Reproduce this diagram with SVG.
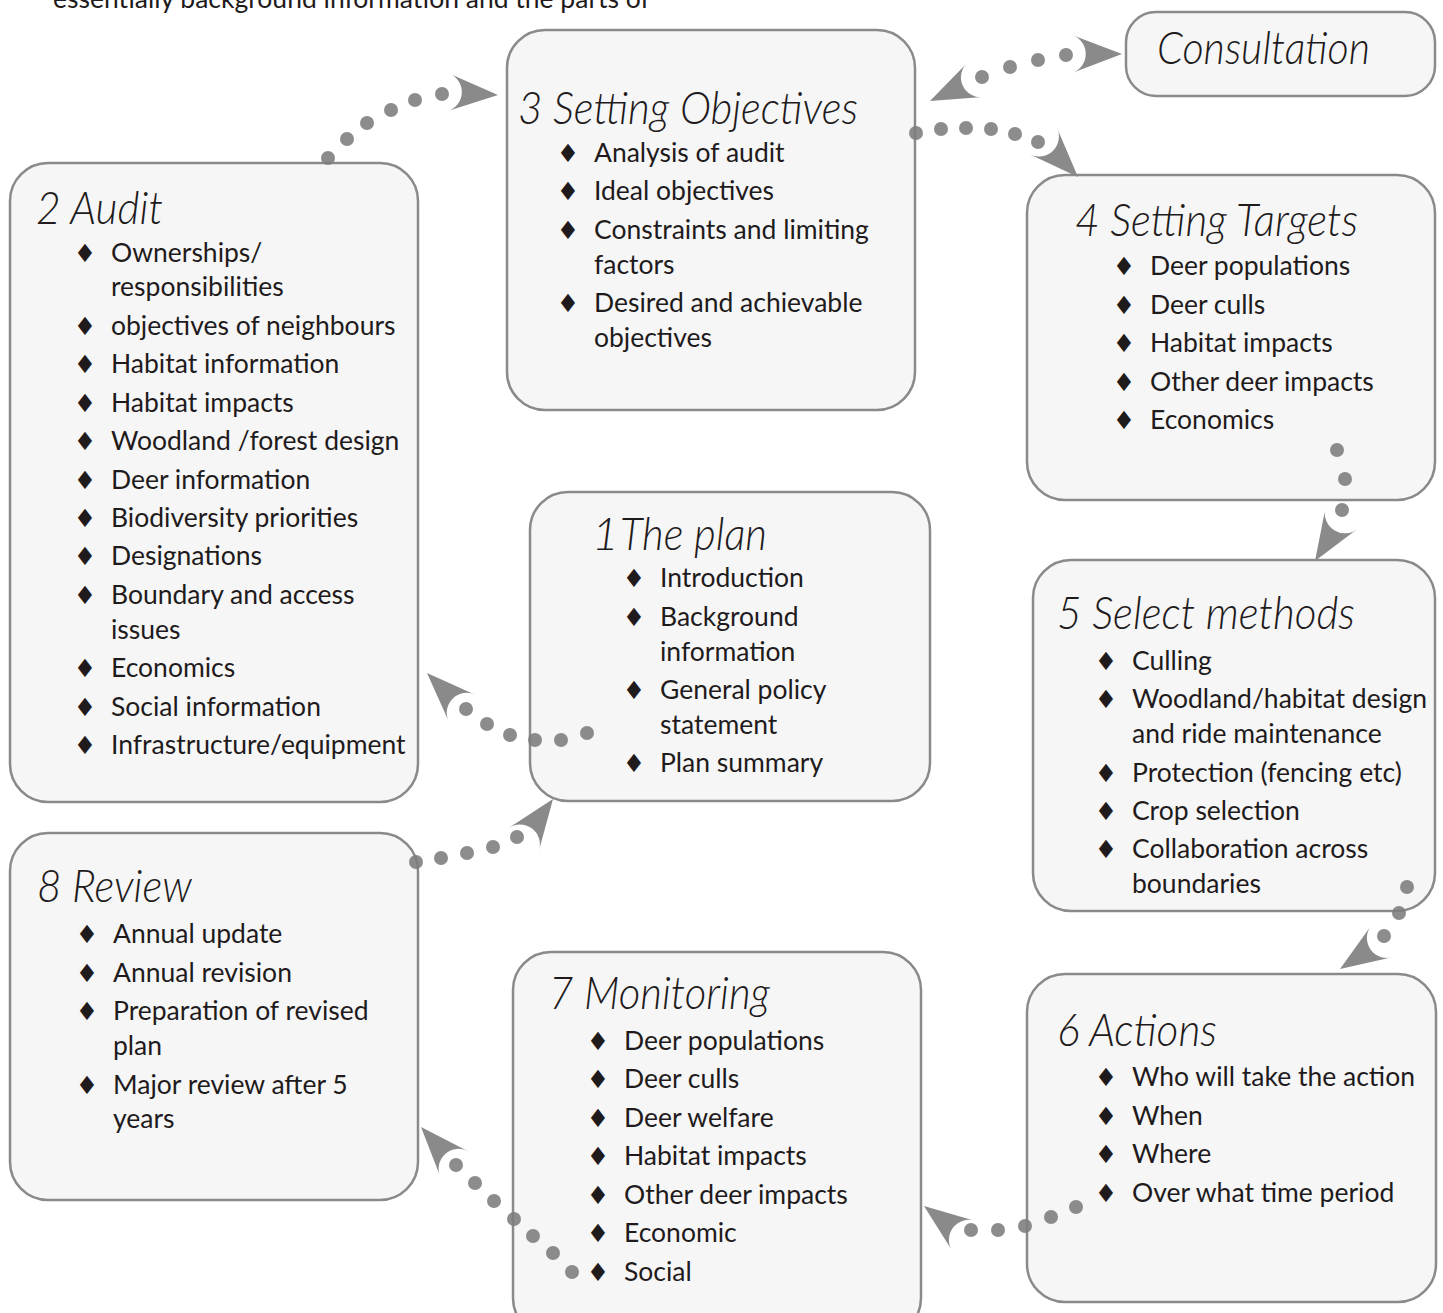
<svg xmlns="http://www.w3.org/2000/svg" xmlns:xlink="http://www.w3.org/1999/xlink" width="1443" height="1313" viewBox="0 0 1443 1313">
<style>
.box{fill:#f6f6f6;stroke:#8a8a8a;stroke-width:2.5}
.t{font-family:Lato,"Open Sans","Liberation Sans",sans-serif;font-size:26.5px;fill:#1f1b1c}
.h{font-family:Lato,"Open Sans","Liberation Sans",sans-serif;font-style:italic;font-weight:300;font-size:46px;fill:#1f1b1c}
.b{font-family:"DejaVu Sans",sans-serif;font-size:25px;fill:#1f1b1c;text-anchor:middle}
.dot{fill:#7c7c7c;fill-opacity:0.88}
.arr{fill:#8a8a8a}
</style>
<defs>
<path id="ah" d="M0,0 L-50,-19 A20,20 0 0 1 -50,19 Z"/>
</defs>
<rect width="1443" height="1313" fill="#ffffff"/>
<text class="t" x="53" y="8">essentially background information and the parts of</text>

<g id="node3">
<rect class="box" x="507" y="30" width="408" height="380" rx="38"/>
<text class="h" x="518" y="124" textLength="340" lengthAdjust="spacingAndGlyphs">3 Setting Objectives</text>
<text class="b" x="568" y="162">♦</text><text class="t" x="594" y="162">Analysis of audit</text>
<text class="b" x="568" y="200">♦</text><text class="t" x="594" y="200">Ideal objectives</text>
<text class="b" x="568" y="239">♦</text><text class="t" x="594" y="239">Constraints and limiting</text>
<text class="t" x="594" y="274">factors</text>
<text class="b" x="568" y="312">♦</text><text class="t" x="594" y="312">Desired and achievable</text>
<text class="t" x="594" y="347">objectives</text>
</g>

<g id="consultation">
<rect class="box" x="1126" y="12" width="309" height="84" rx="30"/>
<text class="h" x="1157" y="64" textLength="213" lengthAdjust="spacingAndGlyphs">Consultation</text>
</g>

<g id="node2">
<rect class="box" x="10" y="163" width="408" height="639" rx="38"/>
<text class="h" x="36" y="224" textLength="127" lengthAdjust="spacingAndGlyphs">2 Audit</text>
<text class="b" x="85" y="262">♦</text><text class="t" x="111" y="262">Ownerships/</text>
<text class="t" x="111" y="296">responsibilities</text>
<text class="b" x="85" y="335">♦</text><text class="t" x="111" y="335">objectives of neighbours</text>
<text class="b" x="85" y="373">♦</text><text class="t" x="111" y="373">Habitat information</text>
<text class="b" x="85" y="412">♦</text><text class="t" x="111" y="412">Habitat impacts</text>
<text class="b" x="85" y="450">♦</text><text class="t" x="111" y="450">Woodland /forest design</text>
<text class="b" x="85" y="489">♦</text><text class="t" x="111" y="489">Deer information</text>
<text class="b" x="85" y="527">♦</text><text class="t" x="111" y="527">Biodiversity priorities</text>
<text class="b" x="85" y="565">♦</text><text class="t" x="111" y="565">Designations</text>
<text class="b" x="85" y="604">♦</text><text class="t" x="111" y="604">Boundary and access</text>
<text class="t" x="111" y="639">issues</text>
<text class="b" x="85" y="677">♦</text><text class="t" x="111" y="677">Economics</text>
<text class="b" x="85" y="716">♦</text><text class="t" x="111" y="716">Social information</text>
<text class="b" x="85" y="754">♦</text><text class="t" x="111" y="754">Infrastructure/equipment</text>
</g>

<g id="node4">
<rect class="box" x="1027" y="175" width="408" height="325" rx="38"/>
<text class="h" x="1075" y="236" textLength="283" lengthAdjust="spacingAndGlyphs">4 Setting Targets</text>
<text class="b" x="1124" y="275">♦</text><text class="t" x="1150" y="275">Deer populations</text>
<text class="b" x="1124" y="314">♦</text><text class="t" x="1150" y="314">Deer culls</text>
<text class="b" x="1124" y="352">♦</text><text class="t" x="1150" y="352">Habitat impacts</text>
<text class="b" x="1124" y="391">♦</text><text class="t" x="1150" y="391">Other deer impacts</text>
<text class="b" x="1124" y="429">♦</text><text class="t" x="1150" y="429">Economics</text>
</g>

<g id="node1">
<rect class="box" x="530" y="492" width="400" height="309" rx="38"/>
<text class="h" x="592" y="550">1<tspan x="620" textLength="147" lengthAdjust="spacingAndGlyphs">The plan</tspan></text>
<text class="b" x="634" y="587">♦</text><text class="t" x="660" y="587">Introduction</text>
<text class="b" x="634" y="626">♦</text><text class="t" x="660" y="626">Background</text>
<text class="t" x="660" y="661">information</text>
<text class="b" x="634" y="699">♦</text><text class="t" x="660" y="699">General policy</text>
<text class="t" x="660" y="734">statement</text>
<text class="b" x="634" y="772">♦</text><text class="t" x="660" y="772">Plan summary</text>
</g>

<g id="node5">
<rect class="box" x="1033" y="560" width="402" height="351" rx="38"/>
<text class="h" x="1057" y="629" textLength="298" lengthAdjust="spacingAndGlyphs">5 Select methods</text>
<text class="b" x="1106" y="670">♦</text><text class="t" x="1132" y="670">Culling</text>
<text class="b" x="1106" y="708">♦</text><text class="t" x="1132" y="708">Woodland/habitat design</text>
<text class="t" x="1132" y="743">and ride maintenance</text>
<text class="b" x="1106" y="782">♦</text><text class="t" x="1132" y="782">Protection (fencing etc)</text>
<text class="b" x="1106" y="820">♦</text><text class="t" x="1132" y="820">Crop selection</text>
<text class="b" x="1106" y="858">♦</text><text class="t" x="1132" y="858">Collaboration across</text>
<text class="t" x="1132" y="893">boundaries</text>
</g>

<g id="node8">
<rect class="box" x="10" y="833" width="408" height="367" rx="38"/>
<text class="h" x="37" y="902" textLength="155" lengthAdjust="spacingAndGlyphs">8 Review</text>
<text class="b" x="87" y="943">♦</text><text class="t" x="113" y="943">Annual update</text>
<text class="b" x="87" y="982">♦</text><text class="t" x="113" y="982">Annual revision</text>
<text class="b" x="87" y="1020">♦</text><text class="t" x="113" y="1020">Preparation of revised</text>
<text class="t" x="113" y="1055">plan</text>
<text class="b" x="87" y="1094">♦</text><text class="t" x="113" y="1094">Major review after 5</text>
<text class="t" x="113" y="1128">years</text>
</g>

<g id="node7">
<rect class="box" x="513" y="952" width="408" height="384" rx="38"/>
<text class="h" x="549" y="1009" textLength="221" lengthAdjust="spacingAndGlyphs">7 Monitoring</text>
<text class="b" x="598" y="1050">♦</text><text class="t" x="624" y="1050">Deer populations</text>
<text class="b" x="598" y="1088">♦</text><text class="t" x="624" y="1088">Deer culls</text>
<text class="b" x="598" y="1127">♦</text><text class="t" x="624" y="1127">Deer welfare</text>
<text class="b" x="598" y="1165">♦</text><text class="t" x="624" y="1165">Habitat impacts</text>
<text class="b" x="598" y="1204">♦</text><text class="t" x="624" y="1204">Other deer impacts</text>
<text class="b" x="598" y="1242">♦</text><text class="t" x="624" y="1242">Economic</text>
<text class="b" x="598" y="1281">♦</text><text class="t" x="624" y="1281">Social</text>
</g>

<g id="node6">
<rect class="box" x="1027" y="974" width="409" height="328" rx="38"/>
<text class="h" x="1057" y="1046" textLength="160" lengthAdjust="spacingAndGlyphs">6 Actions</text>
<text class="b" x="1106" y="1086">♦</text><text class="t" x="1132" y="1086">Who will take the action</text>
<text class="b" x="1106" y="1125">♦</text><text class="t" x="1132" y="1125">When</text>
<text class="b" x="1106" y="1163">♦</text><text class="t" x="1132" y="1163">Where</text>
<text class="b" x="1106" y="1202">♦</text><text class="t" x="1132" y="1202">Over what time period</text>
</g>

<g id="connectors">
<g id="c-audit-objectives" class="dot">
<circle cx="328" cy="158" r="7"/><circle cx="347" cy="139" r="7"/><circle cx="367" cy="123" r="7"/><circle cx="391" cy="110" r="7"/><circle cx="415" cy="100" r="7"/><circle cx="442" cy="94" r="7"/>
</g>
<use xlink:href="#ah" class="arr" transform="translate(498,95) rotate(3)"/>

<g id="c-objectives-consultation" class="dot">
<circle cx="982" cy="77" r="7"/><circle cx="1010" cy="67" r="7"/><circle cx="1038" cy="60" r="7"/><circle cx="1066" cy="55" r="7"/>
</g>
<use xlink:href="#ah" class="arr" transform="translate(1122,54) rotate(0)"/>
<use xlink:href="#ah" class="arr" transform="translate(930,101) rotate(155)"/>

<g id="c-objectives-targets" class="dot">
<circle cx="916" cy="133" r="7"/><circle cx="941" cy="129" r="7"/><circle cx="966" cy="128" r="7"/><circle cx="991" cy="129" r="7"/><circle cx="1015" cy="134" r="7"/><circle cx="1038" cy="142" r="7"/>
</g>
<use xlink:href="#ah" class="arr" transform="translate(1078,177) rotate(46)"/>

<g id="c-targets-methods" class="dot">
<circle cx="1337" cy="450" r="7"/><circle cx="1345" cy="479" r="7"/><circle cx="1342" cy="510" r="7"/>
</g>
<use xlink:href="#ah" class="arr" transform="translate(1315,561) rotate(122)"/>

<g id="c-methods-actions" class="dot">
<circle cx="1407" cy="887" r="7"/><circle cx="1399" cy="913" r="7"/><circle cx="1384" cy="936" r="7"/>
</g>
<use xlink:href="#ah" class="arr" transform="translate(1340,969) rotate(146.5)"/>

<g id="c-actions-monitoring" class="dot">
<circle cx="1076" cy="1207" r="7"/><circle cx="1051" cy="1217" r="7"/><circle cx="1025" cy="1226" r="7"/><circle cx="998" cy="1230" r="7"/><circle cx="971" cy="1230" r="7"/>
</g>
<use xlink:href="#ah" class="arr" transform="translate(924,1206) rotate(-143)"/>

<g id="c-monitoring-review" class="dot">
<circle cx="572" cy="1272" r="7"/><circle cx="553" cy="1253" r="7"/><circle cx="533" cy="1236" r="7"/><circle cx="514" cy="1219" r="7"/><circle cx="494" cy="1201" r="7"/><circle cx="475" cy="1183" r="7"/><circle cx="456" cy="1165" r="7"/>
</g>
<use xlink:href="#ah" class="arr" transform="translate(421,1127) rotate(-132)"/>

<g id="c-review-plan" class="dot">
<circle cx="416" cy="862" r="7"/><circle cx="441" cy="858" r="7"/><circle cx="467" cy="853" r="7"/><circle cx="493" cy="847" r="7"/><circle cx="517" cy="837" r="7"/>
</g>
<use xlink:href="#ah" class="arr" transform="translate(553,799) rotate(-54)"/>

<g id="c-plan-audit" class="dot">
<circle cx="587" cy="733" r="7"/><circle cx="561" cy="740" r="7"/><circle cx="535" cy="740" r="7"/><circle cx="510" cy="735" r="7"/><circle cx="487" cy="724" r="7"/><circle cx="466" cy="709" r="7"/>
</g>
<use xlink:href="#ah" class="arr" transform="translate(427,673) rotate(-135)"/>
</g>
</svg>
